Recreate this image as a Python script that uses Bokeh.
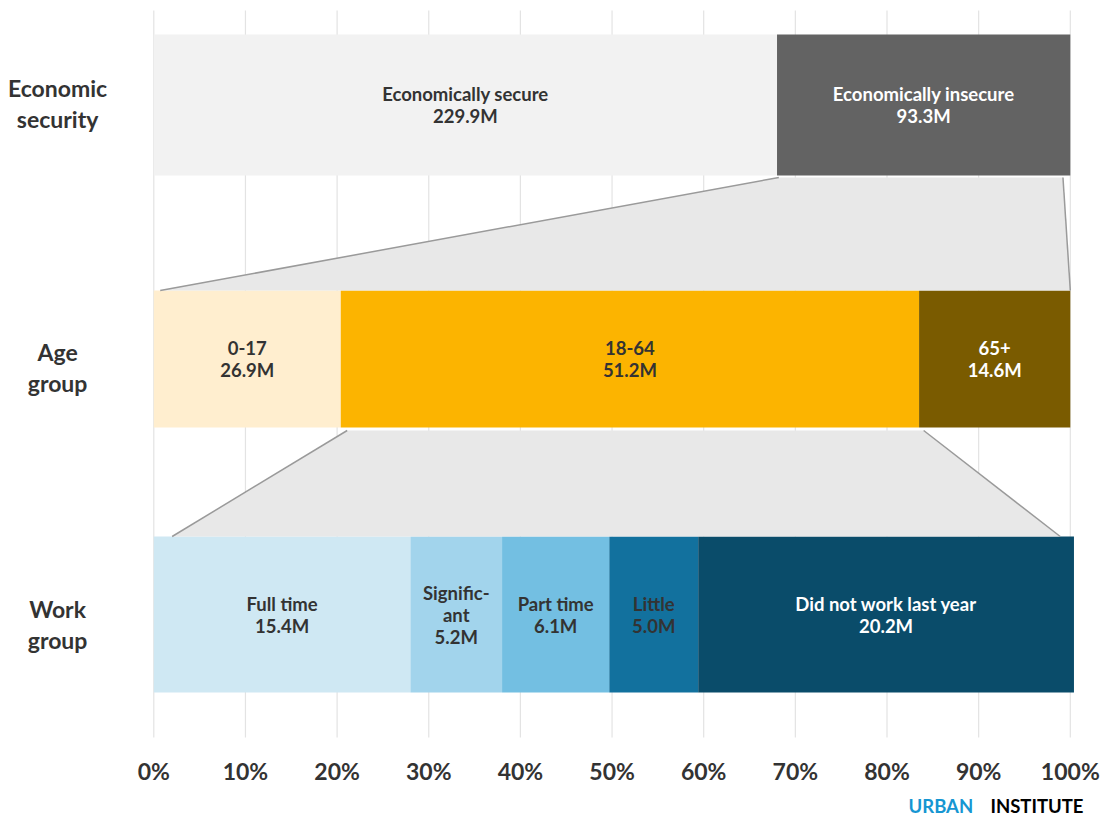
from bokeh.plotting import figure
from bokeh.models import Range1d, ColumnDataSource
from bokeh.core.properties import value
from bokeh.embed import file_html
from bokeh.resources import INLINE

# ---------------- data ----------------
row_names = ["Economic\nsecurity", "Age\ngroup", "Work\ngroup"]

security_labels = ["Economically secure", "Economically insecure"]
security_values = ["229.9M", "93.3M"]
security_shares = [68.0, 32.0]          # percent of bar width
security_colors = ["#f2f2f2", "#636363"]
security_text = ["#333333", "#ffffff"]

age_labels = ["0-17", "18-64", "65+"]
age_values = ["26.9M", "51.2M", "14.6M"]
age_shares = [20.4, 63.1, 16.5]
age_colors = ["#ffeecf", "#fcb400", "#7a5b00"]
age_text = ["#333333", "#333333", "#ffffff"]

work_labels = ["Full time", "Signific-\nant", "Part time", "Little", "Did not work last year"]
work_values = ["15.4M", "5.2M", "6.1M", "5.0M", "20.2M"]
work_shares = [28.0, 10.0, 11.7, 9.7, 41.0]
work_colors = ["#cfe8f3", "#a2d4ec", "#73bfe2", "#12719e", "#0a4c6a"]
work_text = ["#333333", "#333333", "#333333", "#333333", "#ffffff"]

# funnel connectors (percent positions: top-left, top-right, bottom-left, bottom-right)
conn1 = [68.2, 99.2, 0.7, 100.0]
conn2 = [21.1, 84.0, 2.0, 98.9]

tick_values = [0, 10, 20, 30, 40, 50, 60, 70, 80, 90, 100]
tick_labels = [f"{t}%" for t in tick_values]

# ---------------- layout ----------------
W, H = 1101, 816
PX0 = 153.3          # pixel of 0%
PXPP = 9.165         # pixels per percent
FONT = "Lato"

p = figure(width=W, height=H, output_backend="svg", toolbar_location=None,
           x_range=Range1d(-PX0 / PXPP, (W - PX0) / PXPP),
           y_range=Range1d(H, 0), min_border=0)
p.axis.visible = False
p.grid.visible = False
p.outline_line_color = None
p.background_fill_color = "white"
p.border_fill_color = "white"

# gridlines
p.segment(x0=tick_values, x1=tick_values, y0=[10] * len(tick_values), y1=[737] * len(tick_values),
          line_color="#e3e3e3", line_width=1.2)

rows = [
    (security_labels, security_values, security_shares, security_colors, security_text, 34, 175),
    (age_labels, age_values, age_shares, age_colors, age_text, 290, 427),
    (work_labels, work_values, work_shares, work_colors, work_text, 536, 692),
]

for labels, vals, shares, colors, tcols, top, bottom in rows:
    lefts, rights, acc = [], [], 0.0
    for s in shares:
        lefts.append(acc)
        acc += s
        rights.append(acc)
    src = ColumnDataSource(dict(
        left=lefts, right=rights, color=colors,
        xc=[(l + r) / 2 for l, r in zip(lefts, rights)],
        txt=[f"{a}\n{b}" for a, b in zip(labels, vals)],
        tcol=tcols,
    ))
    p.quad(left="left", right="right", top=top, bottom=bottom, fill_color="color",
           line_color=None, source=src)
    p.text(x="xc", y=(top + bottom) / 2, text="txt", source=src,
           text_color="tcol", text_font=value(FONT), text_font_style="bold",
           text_font_size="18.5px", text_align="center", text_baseline="middle",
           text_line_height=1.0)

# connectors
for (tl, tr, bl, br), ytop, ybot in [(conn1, 177, 290), (conn2, 430, 536)]:
    p.patch(x=[tl, tr, br, bl], y=[ytop, ytop, ybot, ybot], fill_color="#e8e8e8", line_color=None)
    p.segment(x0=[tl, tr], y0=[ytop, ytop], x1=[bl, br], y1=[ybot, ybot],
              line_color="#9a9a9a", line_width=1.5)

# row labels
row_y = [103, 367, 624]
p.text(x=[-10.5] * 3, y=row_y, text=row_names, text_font=value(FONT), text_font_style="bold",
       text_font_size="23px", text_color="#333333", text_align="center", text_baseline="middle",
       text_line_height=1.08)

# tick labels
p.text(x=tick_values, y=[770] * len(tick_values), text=tick_labels, text_font=value(FONT),
       text_font_style="bold", text_font_size="23px", text_color="#333333",
       text_align="center", text_baseline="middle")

# logo
p.text(x=[(908 - PX0) / PXPP], y=[805], text=["URBAN"], text_font=value(FONT), text_font_style="bold",
       text_font_size="18.5px", text_color="#1696d2", text_align="left", text_baseline="middle")
p.text(x=[(1083 - PX0) / PXPP], y=[805], text=["INSTITUTE"], text_font=value(FONT), text_font_style="bold",
       text_font_size="18.5px", text_color="#000000", text_align="right", text_baseline="middle")

open("out.html", "w").write(file_html(p, INLINE))
